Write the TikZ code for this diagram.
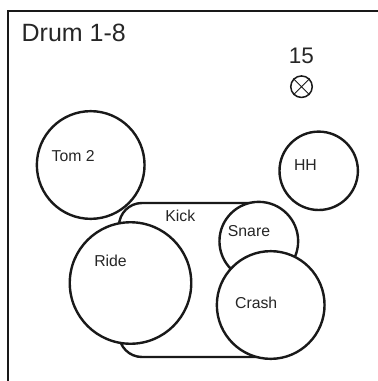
\documentclass[tikz,border=0pt]{standalone}
\usepackage{fontspec}
\setmainfont{Liberation Sans}
\begin{document}
\begin{tikzpicture}[x=1pt,y=-1pt,
  drum/.style={draw=black!90, line width=2.4pt, fill=white, circle, inner sep=0pt, minimum size=#1},
  kickbox/.style={draw=black!90, line width=2.4pt, fill=white, rectangle, rounded corners=23pt, inner sep=0pt, minimum width=166pt, minimum height=154pt},
  lbl/.style={anchor=base, inner sep=0pt, text=black!85, font=\fontsize{15.8}{18}\selectfont},
  big/.style={anchor=base, inner sep=0pt, text=black!85, font=\fontsize{25}{29}\selectfont}]
\useasboundingbox (0,0) rectangle (378,381);
% frame
\draw[line width=2.4pt, black!90, line join=miter] (8,381) -- (8,11) -- (378,11);
\node[big, anchor=base west] (title) at (21.5,41.5) {Drum 1-8};
\node[big, font=\fontsize{22.5}{26}\selectfont] (num) at (301.5,63.5) {15};
\node[draw=black!90, line width=1.5pt, circle, inner sep=0pt, minimum size=21.5pt] (lamp) at (301.5,86.7) {};
\draw[line width=0.9pt, black!90] (lamp.north west) -- (lamp.south east) (lamp.north east) -- (lamp.south west);
% drums
\node[kickbox] (kick) at (202,280) {};
\node[drum=107.7pt] (tom) at (90.7,165) {};
\node[drum=78.4pt] (hh) at (318.7,170.8) {};
\node[drum=121.5pt] (ride) at (130.5,283) {};
\node[drum=78.7pt] (snare) at (258.8,241.2) {};
\node[drum=107.7pt] (crash) at (270.7,305) {};
% labels
\node[lbl] (tomlbl) at (73.2,161.7) {Tom 2};
\node[lbl] (hhlbl) at (305.5,170) {HH};
\node[lbl] (kicklbl) at (180.3,221.7) {Kick};
\node[lbl] (snarelbl) at (249,236) {Snare};
\node[lbl] (ridelbl) at (110.5,266) {Ride};
\node[lbl] (crashlbl) at (256.2,308.3) {Crash};
\end{tikzpicture}
\end{document}
